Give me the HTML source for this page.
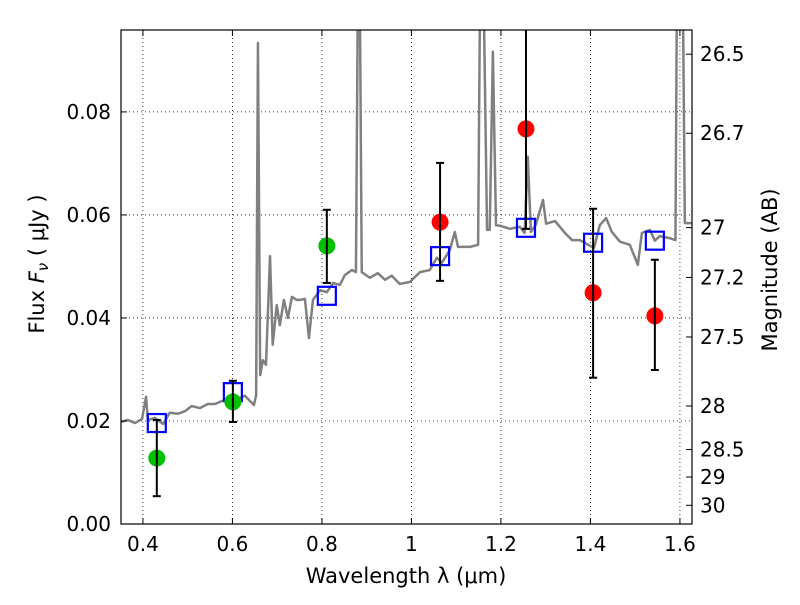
<!DOCTYPE html>
<html><head><meta charset="utf-8"><style>
html,body{margin:0;padding:0;background:#fff;}
svg text{font-family:"DejaVu Sans","Liberation Sans",sans-serif;}
</style></head><body>
<svg id="chart" width="800" height="600" xmlns="http://www.w3.org/2000/svg">
<g id="grid"></g>
<g id="spec"></g>
<g id="marks"></g>
<rect x="121" y="30" width="571" height="494" fill="none" stroke="#000" stroke-width="1.2"/>
<g id="axes"></g>
<text x="406" y="583" font-size="21" text-anchor="middle">Wavelength  λ (μm)</text>
<text transform="translate(44,264) rotate(-90)" font-size="21" text-anchor="middle">Flux  <tspan font-style="italic">F</tspan><tspan font-size="15" font-style="italic" dy="4">ν</tspan><tspan dy="-4">  ( μJy )</tspan></text>
<text transform="translate(777,270) rotate(-90)" font-size="21" text-anchor="middle">Magnitude (AB)</text>
</svg>
<script>
const xTicks=[0.4,0.6,0.8,1,1.2,1.4,1.6];
const xTickLabels=["0.4","0.6","0.8","1","1.2","1.4","1.6"];
const yTicks=[0,0.02,0.04,0.06,0.08];
const yTickLabels=["0.00","0.02","0.04","0.06","0.08"];
const magTicks=[26.5,26.7,27,27.2,27.5,28,28.5,29,30];
const magLabels=["26.5","26.7","27","27.2","27.5","28","28.5","29","30"];
const specW=[0.351,0.366,0.382,0.398,0.407,0.411,0.427,0.445,0.460,0.478,0.494,0.509,0.527,0.545,0.561,0.577,0.594,0.612,0.628,0.639,0.648,0.653,0.657,0.662,0.668,0.675,0.684,0.690,0.699,0.706,0.715,0.724,0.733,0.744,0.751,0.762,0.771,0.780,0.796,0.811,0.825,0.840,0.851,0.867,0.876,0.880,0.885,0.889,0.907,0.925,0.941,0.956,0.974,0.997,1.019,1.041,1.057,1.068,1.086,1.097,1.104,1.131,1.149,1.153,1.162,1.169,1.175,1.182,1.189,1.198,1.220,1.242,1.253,1.260,1.267,1.278,1.294,1.301,1.321,1.343,1.359,1.377,1.399,1.408,1.421,1.435,1.448,1.466,1.488,1.506,1.515,1.533,1.544,1.555,1.577,1.590,1.593,1.607,1.611,1.627];
const specF=[0.0198,0.0202,0.0196,0.0204,0.0247,0.0202,0.0206,0.0194,0.0216,0.0214,0.0219,0.0229,0.0225,0.0233,0.0233,0.0239,0.0241,0.0243,0.0249,0.0239,0.0231,0.025,0.0934,0.0289,0.0318,0.0309,0.052,0.0348,0.0425,0.0386,0.0435,0.040,0.0441,0.0435,0.0435,0.0437,0.0361,0.0435,0.0454,0.045,0.0468,0.0464,0.0483,0.0493,0.0489,0.099,0.099,0.0489,0.0478,0.0487,0.0474,0.0482,0.0466,0.047,0.0489,0.0493,0.0517,0.0507,0.0532,0.0567,0.0538,0.0538,0.0542,0.099,0.099,0.0571,0.0571,0.0917,0.058,0.0579,0.0573,0.0577,0.0565,0.0713,0.0567,0.0581,0.0629,0.0583,0.0588,0.0565,0.0551,0.0551,0.054,0.0536,0.058,0.0594,0.0567,0.0548,0.0542,0.0503,0.0565,0.0571,0.055,0.0559,0.0555,0.0551,0.099,0.099,0.0584,0.0584];
const greenW=[0.431,0.601,0.811];
const greenF=[0.0128,0.0237,0.054];
const greenLo=[0.0054,0.0198,0.0468];
const greenHi=[0.0202,0.0278,0.061];
const redW=[1.064,1.256,1.406,1.544];
const redF=[0.0586,0.0767,0.0449,0.0404];
const redLo=[0.0472,0.0573,0.0284,0.0299];
const redHi=[0.0701,0.11,0.0612,0.0513];
const modelW=[0.431,0.601,0.811,1.064,1.256,1.406,1.544];
const modelF=[0.0196,0.0256,0.0443,0.052,0.0575,0.0546,0.055];

const X0=121,X1=692,Y0=30,Y1=524,WMIN=0.351,WMAX=1.627,FMIN=0,FMAX=0.0959;
const sx=w=>X0+(w-WMIN)/(WMAX-WMIN)*(X1-X0);
const sy=f=>Y1-(f-FMIN)/(FMAX-FMIN)*(Y1-Y0);
const magToF=m=>Math.pow(10,(23.9-m)/2.5);
const NS="http://www.w3.org/2000/svg";
function mk(tag,parent,attrs){const e=document.createElementNS(NS,tag);for(const k in attrs)e.setAttribute(k,attrs[k]);parent.appendChild(e);return e;}
const grid=document.getElementById('grid'),axes=document.getElementById('axes'),spec=document.getElementById('spec'),marks=document.getElementById('marks');
xTicks.forEach((t,i)=>{const x=sx(t);
 const g=mk('line',grid,{x1:x,x2:x,y1:Y0,y2:Y1,stroke:'#000','stroke-width':0.8,'stroke-dasharray':'1,3'});
 
 mk('line',axes,{x1:x,x2:x,y1:Y1,y2:Y1-6,stroke:'#000'});mk('line',axes,{x1:x,x2:x,y1:Y0,y2:Y0+6,stroke:'#000'});
 const l=mk('text',axes,{x:x,y:Y1+27,'font-size':20,'text-anchor':'middle'});l.textContent=xTickLabels[i];
 });
yTicks.forEach((t,i)=>{const y=sy(t);
 const g=mk('line',grid,{x1:X0,x2:X1,y1:y,y2:y,stroke:'#000','stroke-width':0.8,'stroke-dasharray':'1,3'});
 
 mk('line',axes,{x1:X0,x2:X0+6,y1:y,y2:y,stroke:'#000'});
 const l=mk('text',axes,{x:X0-10,y:y+7,'font-size':20,'text-anchor':'end'});l.textContent=yTickLabels[i];
 });
magTicks.forEach((m,i)=>{const y=sy(magToF(m));
 mk('line',axes,{x1:X1,x2:X1-6,y1:y,y2:y,stroke:'#000'});
 const l=mk('text',axes,{x:X1+8,y:y+7,'font-size':20,'text-anchor':'start'});l.textContent=magLabels[i];
 });
const cp=mk('clipPath',document.getElementById('chart'),{id:'clip'});mk('rect',cp,{x:X0,y:Y0,width:X1-X0,height:Y1-Y0});
spec.setAttribute('clip-path','url(#clip)');marks.setAttribute('clip-path','url(#clip)');
const pl=mk('polyline',spec,{points:specW.map((w,i)=>sx(w)+','+sy(specF[i])).join(' '),fill:'none',stroke:'#808080','stroke-width':2.5,'stroke-linejoin':'round'});

function errbar(w,lo,hi){const x=sx(w);
 const g=mk('g',marks,{});
 
 mk('line',g,{x1:x,x2:x,y1:sy(lo),y2:sy(hi),stroke:'#000','stroke-width':2});
 mk('line',g,{x1:x-4,x2:x+4,y1:sy(lo),y2:sy(lo),stroke:'#000','stroke-width':2});
 mk('line',g,{x1:x-4,x2:x+4,y1:sy(hi),y2:sy(hi),stroke:'#000','stroke-width':2});}
modelW.forEach((w,i)=>{const r=mk('rect',marks,{x:sx(w)-9,y:sy(modelF[i])-9,width:18,height:18,fill:'none',stroke:'#0000ff','stroke-width':2.2});
 });
greenW.forEach((w,i)=>{const c=mk('circle',marks,{cx:sx(w),cy:sy(greenF[i]),r:8.5,fill:'#00c000'});
 });
redW.forEach((w,i)=>{const c=mk('circle',marks,{cx:sx(w),cy:sy(redF[i]),r:8.5,fill:'#ff0000'});
 });
greenW.forEach((w,i)=>errbar(w,greenLo[i],greenHi[i]));
redW.forEach((w,i)=>errbar(w,redLo[i],redHi[i]));
</script>
</body></html>
